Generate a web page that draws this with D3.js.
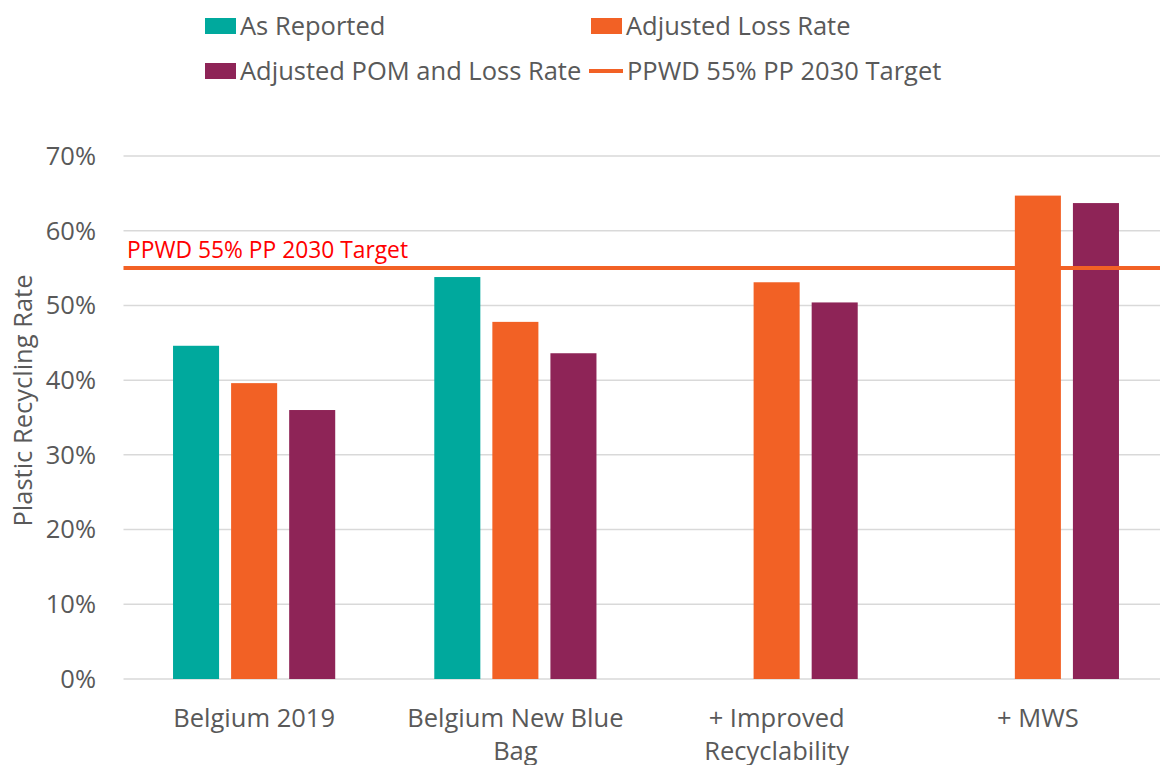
<!DOCTYPE html>
<meta charset="utf-8">
<style>
body { margin: 0; background: #fff; }
svg { display: block; font-family: "Open Sans", sans-serif; }
.grid line { stroke: #d9d9d9; stroke-width: 1.5px; }
.tick-label, .cat-label, .legend text, .y-title { fill: #595959; }
</style>
<svg width="1160" height="765"></svg>
<script src="https://cdn.jsdelivr.net/npm/d3@7"></script>
<script>

// chart data
var categories = ["Belgium 2019", "Belgium New Blue Bag", "+ Improved Recyclability", "+ MWS"];
var seriesNames = ["As Reported", "Adjusted Loss Rate", "Adjusted POM and Loss Rate"];
var asReported = [0.446, 0.538, null, null];
var adjustedLoss = [0.396, 0.478, 0.531, 0.647];
var adjustedPomLoss = [0.360, 0.436, 0.504, 0.637];
var targetValue = 0.55;
var targetName = "PPWD 55% PP 2030 Target";
var yTicks = [0, 0.1, 0.2, 0.3, 0.4, 0.5, 0.6, 0.7];
var colors = ["#00a99d", "#f26125", "#8e2457"];

var svg = d3.select("svg"),
    width = +svg.attr("width"),
    height = +svg.attr("height");

var plotLeft = 123.5, plotRight = 1168.5, plotTop = 156, plotBottom = 679;

var x = d3.scaleBand()
    .domain(categories)
    .range([plotLeft, plotRight])
    .padding(0);

var xs = d3.scaleBand()
    .domain(seriesNames)
    .range([0, x.bandwidth()])
    .paddingInner(0.207)
    .paddingOuter(0.853);

var y = d3.scaleLinear()
    .domain([0, 0.7])
    .range([plotBottom, plotTop]);

// gridlines
svg.append("g")
    .attr("class", "grid")
    .selectAll("line")
    .data(yTicks)
  .enter().append("line")
    .attr("x1", plotLeft)
    .attr("x2", width)
    .attr("y1", function(d) { return y(d); })
    .attr("y2", function(d) { return y(d); });

// y tick labels
svg.append("g")
    .selectAll("text")
    .data(yTicks)
  .enter().append("text")
    .attr("class", "tick-label")
    .attr("x", 96)
    .attr("y", function(d) { return y(d); })
    .attr("dy", "0.35em")
    .attr("text-anchor", "end")
    .style("font-size", "25.5px")
    .text(d3.format(".0%"));

// y axis title
svg.append("text")
    .attr("class", "y-title")
    .attr("transform", "translate(32," + ((plotTop + plotBottom) / 2 - 17) + ") rotate(-90)")
    .attr("text-anchor", "middle")
    .style("font-size", "25.5px")
    .text("Plastic Recycling Rate");

// bars
var series = [asReported, adjustedLoss, adjustedPomLoss];
var bars = [];
categories.forEach(function(c, i) {
  series.forEach(function(s, j) {
    if (s[i] != null) bars.push({cat: c, name: seriesNames[j], value: s[i], color: colors[j]});
  });
});

svg.append("g")
    .selectAll("rect")
    .data(bars)
  .enter().append("rect")
    .attr("x", function(d) { return x(d.cat) + xs(d.name); })
    .attr("width", xs.bandwidth())
    .attr("y", function(d) { return y(d.value); })
    .attr("height", function(d) { return y(0) - y(d.value); })
    .attr("fill", function(d) { return d.color; });

// target line + label
svg.append("line")
    .attr("x1", plotLeft)
    .attr("x2", width)
    .attr("y1", y(targetValue))
    .attr("y2", y(targetValue))
    .attr("stroke", colors[1])
    .attr("stroke-width", 4);

svg.append("text")
    .attr("x", 127)
    .attr("y", y(targetValue) - 10)
    .attr("fill", "#ff0000")
    .style("font-size", "22.8px")
    .text(targetName);

// category labels, wrapped
function wrap(text, maxWidth) {
  text.each(function() {
    var t = d3.select(this),
        words = t.text().split(" "),
        line = [],
        cx = t.attr("x"),
        tspan = t.text(null).append("tspan").attr("x", cx);
    words.forEach(function(w) {
      line.push(w);
      tspan.text(line.join(" "));
      if (tspan.node().getComputedTextLength() > maxWidth && line.length > 1) {
        line.pop();
        tspan.text(line.join(" "));
        line = [w];
        tspan = t.append("tspan").attr("x", cx).attr("dy", "33px").text(w);
      }
    });
  });
}

svg.append("g")
    .selectAll("text")
    .data(categories)
  .enter().append("text")
    .attr("class", "cat-label")
    .attr("x", function(d) { return x(d) + x.bandwidth() / 2; })
    .attr("y", 727)
    .attr("text-anchor", "middle")
    .style("font-size", "25.5px")
    .text(function(d) { return d; })
    .call(wrap, 235);

// legend
var legendItems = [
  {name: seriesNames[0], color: colors[0], type: "box", x: 205, y: 26},
  {name: seriesNames[1], color: colors[1], type: "box", x: 591, y: 26},
  {name: seriesNames[2], color: colors[2], type: "box", x: 205, y: 71},
  {name: targetName, color: colors[1], type: "line", x: 589, y: 71}
];

var lg = svg.append("g").attr("class", "legend")
    .selectAll("g")
    .data(legendItems)
  .enter().append("g")
    .attr("transform", function(d) { return "translate(" + d.x + "," + d.y + ")"; });

lg.filter(function(d) { return d.type == "box"; })
  .append("rect")
    .attr("x", 0)
    .attr("y", -8)
    .attr("width", 31)
    .attr("height", 16)
    .attr("fill", function(d) { return d.color; });

lg.filter(function(d) { return d.type == "line"; })
  .append("line")
    .attr("x1", 0)
    .attr("x2", 34)
    .attr("stroke", function(d) { return d.color; })
    .attr("stroke-width", 4);

lg.append("text")
    .attr("x", function(d) { return d.type == "box" ? 35 : 38; })
    .attr("dy", "0.35em")
    .style("font-size", "25.5px")
    .text(function(d) { return d.name; });

</script>
